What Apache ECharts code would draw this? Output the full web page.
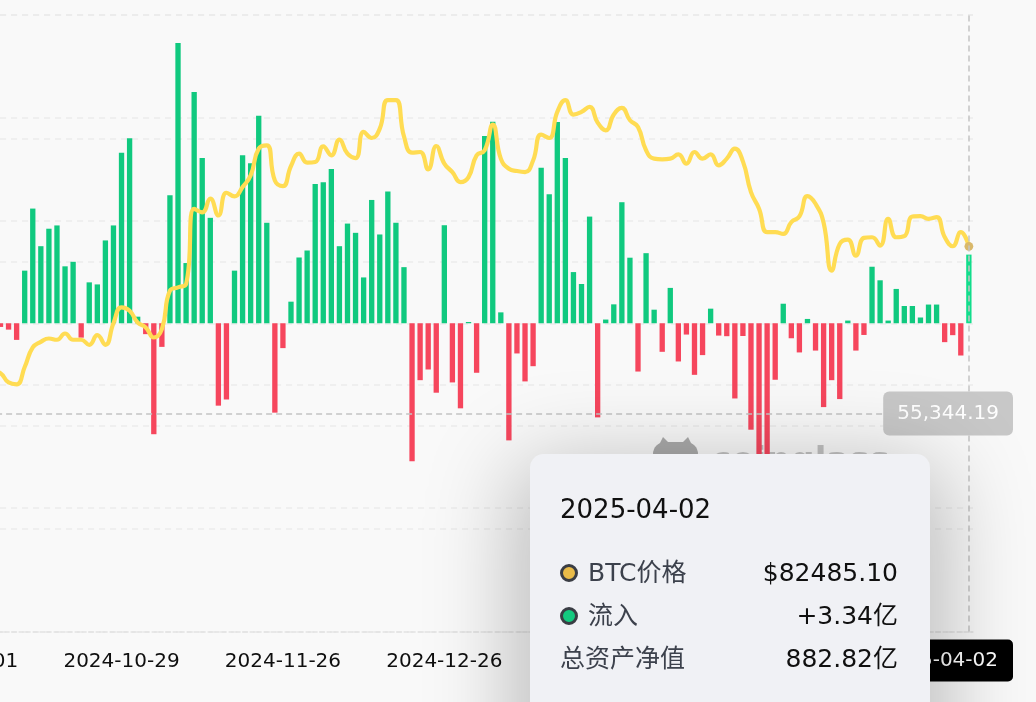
<!DOCTYPE html>
<html>
<head>
<meta charset="utf-8">
<script src="https://cdn.jsdelivr.net/npm/echarts@6/dist/echarts.min.js"></script>
<style>
html,body{margin:0;padding:0;background:#f9f9f9;overflow:hidden;width:1036px;height:702px;}
#chart{width:1013px;height:702px;}
</style>
</head>
<body>
<div id="chart"></div>
<script>
// Trading days (US spot BTC ETF flow days)
const dates = [
  '2024-10-01','2024-10-02','2024-10-03','2024-10-04','2024-10-07',
  '2024-10-08','2024-10-09','2024-10-10','2024-10-11','2024-10-14','2024-10-15','2024-10-16','2024-10-17','2024-10-18',
  '2024-10-21','2024-10-22','2024-10-23','2024-10-24','2024-10-25','2024-10-28','2024-10-29','2024-10-30','2024-10-31',
  '2024-11-01','2024-11-04','2024-11-05','2024-11-06','2024-11-07','2024-11-08','2024-11-11','2024-11-12','2024-11-13',
  '2024-11-14','2024-11-15','2024-11-18','2024-11-19','2024-11-20','2024-11-21','2024-11-22','2024-11-25','2024-11-26',
  '2024-11-27','2024-11-29',
  '2024-12-02','2024-12-03','2024-12-04','2024-12-05','2024-12-06','2024-12-09','2024-12-10','2024-12-11','2024-12-12',
  '2024-12-13','2024-12-16','2024-12-17','2024-12-18','2024-12-19','2024-12-20','2024-12-23','2024-12-24','2024-12-26',
  '2024-12-27','2024-12-30','2024-12-31',
  '2025-01-02','2025-01-03','2025-01-06','2025-01-07','2025-01-08','2025-01-10','2025-01-13','2025-01-14','2025-01-15',
  '2025-01-16','2025-01-17','2025-01-21','2025-01-22','2025-01-23','2025-01-24','2025-01-27','2025-01-28','2025-01-29',
  '2025-01-30','2025-01-31',
  '2025-02-03','2025-02-04','2025-02-05','2025-02-06','2025-02-07','2025-02-10','2025-02-11','2025-02-12','2025-02-13',
  '2025-02-14','2025-02-18','2025-02-19','2025-02-20','2025-02-21','2025-02-24','2025-02-25','2025-02-26','2025-02-27',
  '2025-02-28',
  '2025-03-03','2025-03-04','2025-03-05','2025-03-06','2025-03-07','2025-03-10','2025-03-11','2025-03-12','2025-03-13',
  '2025-03-14','2025-03-17','2025-03-18','2025-03-19','2025-03-20','2025-03-21','2025-03-24','2025-03-25','2025-03-26',
  '2025-03-27','2025-03-28','2025-03-31',
  '2025-04-01','2025-04-02'
];

// Net flow (亿 USD)
const flows = [
  -2.42, -0.92, -0.54, 0.26, 2.35,
  -0.18, -0.31, -0.81, 2.56, 5.58, 3.75, 4.60, 4.76, 2.77, 2.99, -0.70, 1.99, 1.89, 4.03, 4.76, 8.30, 9.00, 0.32,
  -0.53, -5.40, -1.15, 6.23, 13.64, 2.93, 11.25,
  8.04, 5.13, -4.01, -3.71, 2.56, 8.17, 7.78, 10.10, 4.89, -4.35, -1.21, 1.05, 3.20,
  3.54, 6.78, 6.86, 7.51, 3.75, 4.85, 4.40, 2.23, 6.00, 4.32, 6.41,
  4.89, 2.73, -6.72, -2.77, -2.25, -3.38, 4.77, -2.88, -4.14, 0.06,
  -2.41, 9.11, 9.81, 0.53, -5.70, -1.47, -2.83, -2.09, 7.57, 6.28, 9.79, 8.04, 2.49, 1.91, 5.19,
  -4.58, 0.18, 0.92, 5.89, 3.19,
  -2.35, 3.41, 0.66, -1.39, 1.72, -1.86, -0.55, -2.51, -1.55, 0.71, -0.60, -0.63, -3.66, -0.62, -5.18, -10.14, -7.55, -2.75, 0.95,
  -0.73, -1.42, 0.21, -1.33, -4.08, -2.77, -3.69, 0.13, -1.33, -0.57, 2.75, 2.09, 0.13, 1.67, 0.84, 0.84, 0.28, 0.91, 0.91, -0.92, -0.58,
  -1.57, 3.34
];

// BTC price (USD)
const prices = [
  60800, 60650, 60750, 62100, 62250,
  61900, 60400, 60100, 62900, 66070, 66990, 67530, 67320, 68340, 67320, 67320, 66500, 68080, 66500, 70000, 72570, 72030, 70130,
  69320, 67690, 69050, 75290, 75820, 76370, 88570,
  88000, 90200, 87480, 91170, 90570, 92090, 93980, 98320, 98860, 93170, 92250, 95500, 97510,
  96050, 96150, 98700, 97240, 99790, 97510, 96800, 101030, 100050, 101570, 106180,
  106180, 100300, 97670, 97780, 94960, 98750, 95890, 94520, 92900, 93710,
  97240, 98050, 102230, 96700, 95070, 94690, 94520, 96400, 100600, 100050, 104280, 106180, 103850, 104280, 105090,
  102550, 101300, 103850, 104930, 102930,
  101840, 98050, 96700, 96590, 96700, 97400, 95890, 97780, 96700, 97400, 95610, 96700, 98320, 96260, 91270, 88570, 84770, 84770, 84500,
  86400, 87320, 90620, 89380, 86300, 78540, 82880, 83580, 80980, 83850, 83950, 82600, 86940, 83950, 84120, 87320, 87370, 86940, 87200, 84000, 82490,
  84770, 82485.10
];

const netAssetsLatest = 882.82;   // 总资产净值 (亿) on last day
const crosshairPrice = 55344.19;  // horizontal crosshair position (price axis)

const GREEN = '#10c97f', RED = '#f6465d', LINE = '#fec84c';
const FONT = "'DejaVu Sans', 'Noto Sans CJK SC', sans-serif";
const dash = {color: '#ebebeb', type: [6, 5], width: 1.5};
const pointerLine = {color: '#c4c4c4', type: [6, 4], width: 1.5};

const chart = echarts.init(document.getElementById('chart'));

const option = {
  animation: false,
  backgroundColor: '#f9f9f9',
  grid: {left: -43.9, right: 40.1, top: 15, bottom: 70.5, outerBoundsMode: 'none'},
  xAxis: {
    type: 'category',
    data: dates,
    boundaryGap: true,
    axisLine: {show: true, onZero: false, lineStyle: {color: '#e2e2e2', type: [4, 3], width: 1.5}},
    axisTick: {show: false},
    splitLine: {show: false},
    axisLabel: {
      interval: (i) => i % 20 === 0,
      color: '#0f0f0f', fontSize: 20, fontFamily: FONT, margin: 20
    },
    axisPointer: {
      label: {
        backgroundColor: '#000', color: '#fff', fontSize: 20, fontFamily: FONT,
        padding: [11, 15, 11, 15], borderRadius: 5, margin: 8
      }
    }
  },
  yAxis: [
    {
      type: 'value', min: -15, max: 15, interval: 5, position: 'left',
      axisLabel: {show: false}, axisLine: {show: false}, axisTick: {show: false},
      splitLine: {show: true, lineStyle: dash},
      axisPointer: {show: false}
    },
    {
      type: 'value', min: 20000, max: 120000, interval: 20000, position: 'right',
      axisLabel: {show: false}, axisLine: {show: false}, axisTick: {show: false},
      splitLine: {show: true, lineStyle: dash},
      axisPointer: {
        label: {
          backgroundColor: '#c8c8c8', color: '#ffffff', fontSize: 20, fontFamily: FONT,
          padding: [12, 14, 12, 14], borderRadius: 6, margin: 4,
          formatter: (p) => Number(p.value).toLocaleString('en-US', {minimumFractionDigits: 2, maximumFractionDigits: 2})
        }
      }
    }
  ],
  graphic: [
    {
      type: 'group', left: 653, top: 437, z: 1,
      children: [
        {type: 'rect', shape: {x: 0, y: 5, width: 45, height: 30, r: 12}, style: {fill: '#ababab'}},
        {type: 'polygon', shape: {points: [[5, 10], [10, 0], [17, 7]]}, style: {fill: '#ababab'}},
        {type: 'polygon', shape: {points: [[28, 7], [35, 0], [40, 10]]}, style: {fill: '#ababab'}}
      ]
    },
    {
      type: 'text', left: 711, top: 445, z: 1,
      style: {text: 'coinglass', font: "bold 34px 'DejaVu Sans'", fill: '#c2c2c2'}
    }
  ],
  tooltip: {
    trigger: 'axis',
    triggerOn: 'none',
    alwaysShowContent: true,
    transitionDuration: 0,
    axisPointer: {
      type: 'cross',
      lineStyle: pointerLine,
      crossStyle: pointerLine,
      label: {show: true}
    },
    position: () => [530, 454],
    backgroundColor: '#f0f1f5',
    borderWidth: 0,
    padding: [30, 32, 30, 30],
    extraCssText: 'border-radius:14px;box-shadow:0 24px 90px 14px rgba(0,0,0,0.26);width:338px;height:260px;box-sizing:content-box;',
    formatter: (params) => {
      const i = params[0].dataIndex;
      const f = flows[i], p = prices[i];
      const dot = (c) => '<span style="display:inline-block;width:12px;height:12px;border-radius:50%;background:' + c +
        ';border:3.5px solid #3a3d44;margin-right:10px;"></span>';
      const row = (label, val) => '<div style="display:flex;justify-content:space-between;align-items:center;height:43px;">' +
        '<span style="display:flex;align-items:center;color:#3c414c;">' + label + '</span>' +
        '<span style="color:#101010;">' + val + '</span></div>';
      return '<div style="font-family:' + FONT.replace(/'/g, '&quot;') + ';font-size:25px;">' +
        '<div style="color:#101010;font-size:26px;line-height:30px;margin:10px 0 27px 0;">' + dates[i] + '</div>' +
        row(dot('#e9bb48') + 'BTC价格', '$' + p.toFixed(2)) +
        row(dot('#14c97f') + '流入', (f >= 0 ? '+' : '') + f.toFixed(2) + '亿') +
        row('总资产净值', netAssetsLatest.toFixed(2) + '亿') +
        '</div>';
    }
  },
  series: [
    {
      name: '流入', type: 'bar', yAxisIndex: 0, data: flows, barWidth: '66%',
      itemStyle: {color: (p) => (p.value >= 0 ? GREEN : RED)}
    },
    {
      name: 'BTC价格', type: 'line', yAxisIndex: 1, data: prices, smooth: true,
      showSymbol: false, symbol: 'circle', symbolSize: 8,
      lineStyle: {color: LINE, width: 4.2}, itemStyle: {color: '#d9b86a'}, z: 3
    }
  ]
};

chart.setOption(option);
const lastIdx = dates.length - 1;
const pt = chart.convertToPixel({seriesIndex: 1}, [lastIdx, crosshairPrice]);
chart.dispatchAction({type: 'showTip', x: pt[0], y: pt[1]});
</script>
</body>
</html>
